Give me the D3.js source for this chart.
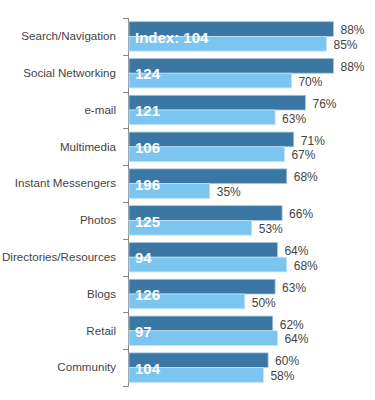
<!DOCTYPE html>
<html>
<head>
<meta charset="utf-8">
<script src="https://cdn.jsdelivr.net/npm/d3@7"></script>
<style>
  body { margin: 0; background: #fff; }
  text { font-family: Arial, "Liberation Sans", sans-serif; }
</style>
</head>
<body>
<div id="chart"></div>
<script>
const categories = ["Search/Navigation", "Social Networking", "e-mail", "Multimedia",
    "Instant Messengers", "Photos", "Directories/Resources", "Blogs", "Retail", "Community"];
const seriesA = [88, 88, 76, 71, 68, 66, 64, 63, 62, 60];
const seriesB = [85, 70, 63, 67, 35, 53, 68, 50, 64, 58];
const indexValues = [104, 124, 121, 106, 196, 125, 94, 126, 97, 104];

const width = 375, height = 400;
const plotLeft = 128, plotTop = 18, plotBottom = 386;

const svg = d3.select("#chart").append("svg")
    .attr("width", width)
    .attr("height", height);

const x = d3.scaleLinear().domain([0, 100]).range([plotLeft, plotLeft + 233.5]);
const y = d3.scaleBand().domain(categories).range([plotTop, plotBottom])
    .paddingInner(0.2).paddingOuter(0.1);
const half = y.bandwidth() / 2;

// category labels
const yAxis = svg.append("g")
    .attr("transform", `translate(${plotLeft},0)`)
    .call(d3.axisLeft(y).tickSize(0).tickPadding(12));
yAxis.select(".domain").remove();
yAxis.selectAll("text")
    .attr("font-size", 11.6)
    .attr("font-family", "Arial, 'Liberation Sans', sans-serif")
    .attr("fill", "#444");

// axis line and ticks between groups
const bounds = d3.range(categories.length + 1).map(i => plotTop + i * y.step());
svg.append("line")
    .attr("x1", plotLeft + 0.5).attr("x2", plotLeft + 0.5)
    .attr("y1", plotTop).attr("y2", plotBottom)
    .attr("stroke", "#888");
svg.append("g").selectAll("line")
    .data(bounds)
    .join("line")
    .attr("x1", plotLeft - 5).attr("x2", plotLeft + 0.5)
    .attr("y1", d => Math.round(d) + 0.5).attr("y2", d => Math.round(d) + 0.5)
    .attr("stroke", "#888");

const rows = categories.map((c, i) => ({ c, a: seriesA[i], b: seriesB[i], idx: indexValues[i], i }));

const g = svg.append("g").selectAll("g")
    .data(rows)
    .join("g")
    .attr("transform", d => `translate(0,${y(d.c)})`);

g.append("rect")
    .attr("x", x(0) + 1)
    .attr("y", 0)
    .attr("width", d => x(d.a) - x(0) - 1)
    .attr("height", half)
    .attr("fill", "#3a77a4")
    .attr("stroke", "#a9c9e0")
    .attr("stroke-width", 0.8);

g.append("rect")
    .attr("x", x(0) + 1)
    .attr("y", half)
    .attr("width", d => x(d.b) - x(0) - 1)
    .attr("height", half)
    .attr("fill", "#7cc5f0")
    .attr("stroke", "#c4e3f7")
    .attr("stroke-width", 0.8);

g.append("text")
    .attr("x", d => x(d.a) + 7)
    .attr("y", half / 2 + 1)
    .attr("dy", "0.35em")
    .attr("font-size", 12)
    .attr("fill", "#444")
    .text(d => d.a + "%");

g.append("text")
    .attr("x", d => x(d.b) + 7)
    .attr("y", half * 1.5 + 1)
    .attr("dy", "0.35em")
    .attr("font-size", 12)
    .attr("fill", "#444")
    .text(d => d.b + "%");

g.append("text")
    .attr("x", plotLeft + 7)
    .attr("y", half + 1)
    .attr("dy", "0.35em")
    .attr("font-size", 15)
    .attr("font-weight", "bold")
    .attr("fill", "#fff")
    .text(d => d.i === 0 ? "Index: " + d.idx : d.idx);
</script>
</body>
</html>
